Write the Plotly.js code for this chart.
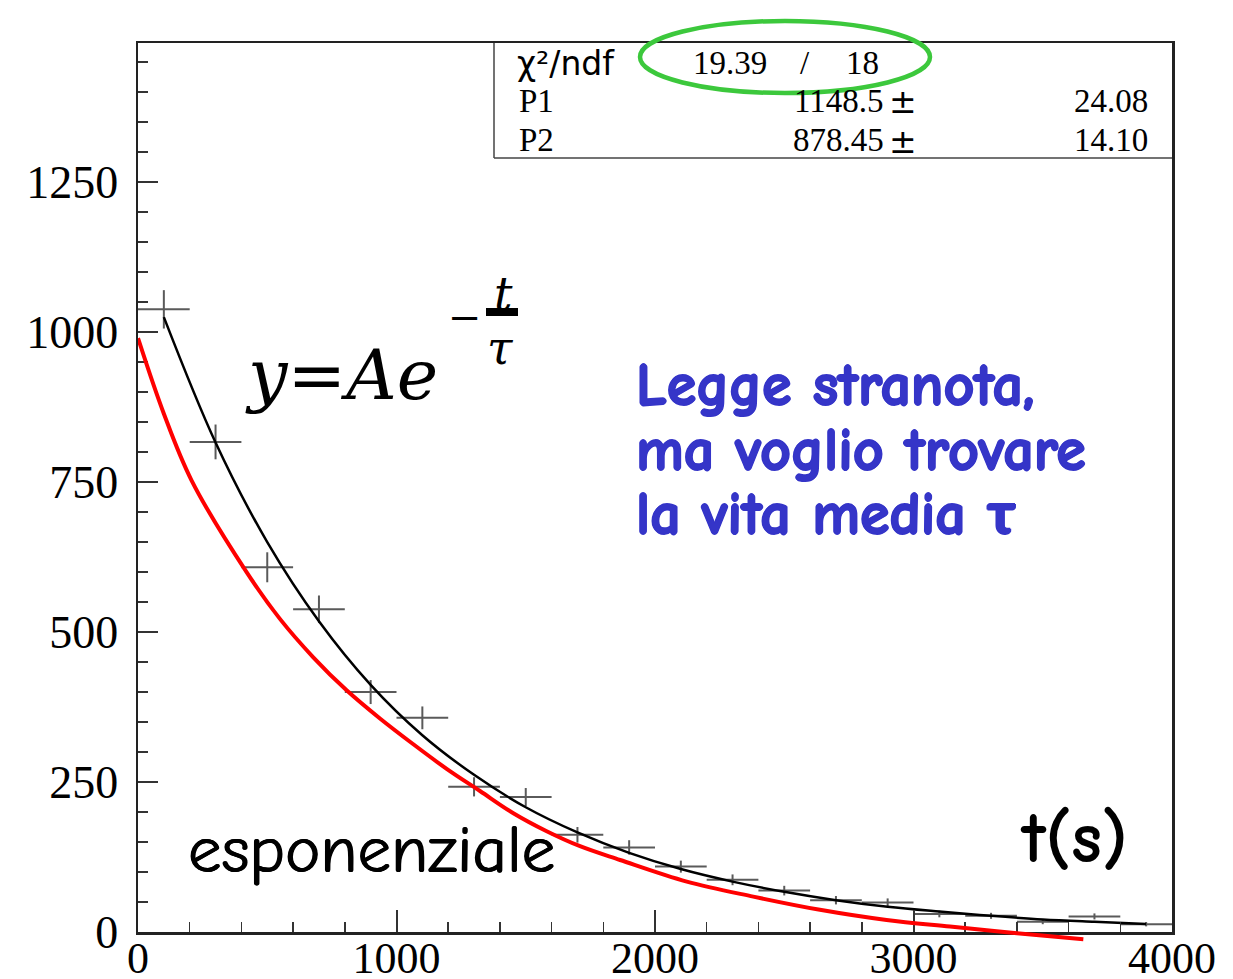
<!DOCTYPE html>
<html>
<head>
<meta charset="utf-8">
<script src="https://cdn.plot.ly/plotly-3.0.1.min.js"></script>
<style>html,body{margin:0;padding:0;background:#fff;}#chart{width:1233px;height:979px;}</style>
</head>
<body>
<div id="chart"></div>
<script>
// ---- data ----
var binCenters = [100, 300, 500, 700, 900, 1100, 1300, 1500, 1700, 1900, 2100, 2300, 2500, 2700, 2900, 3100, 3300, 3500, 3700, 3900];
var binHalfWidth = [100, 100, 100, 100, 100, 100, 100, 100, 100, 100, 100, 100, 100, 100, 100, 100, 100, 100, 100, 100];
var counts = [1038, 817, 608, 538, 400, 357, 242, 225, 162, 141, 109, 87, 69, 53, 49, 30, 27, 17, 26, 13];
var countErrors = [32, 29, 25, 23, 20, 19, 16, 15, 13, 12, 10, 9, 8, 7, 7, 5.5, 5, 4, 5, 3.6];

var fitT = [100, 300, 500, 700, 900, 1100, 1300, 1500, 1700, 1900, 2100, 2300, 2500, 2700, 2900, 3100, 3300, 3500, 3700, 3900];
var fitY = [1025, 816, 650, 518, 412, 328, 262, 208, 166, 132, 105, 84, 67, 53, 42, 34, 27, 21, 17, 13.5];

var redT = [0, 100, 207, 420, 549, 678, 807, 936, 1065, 1194, 1323, 1452, 1581, 1710, 1865, 2123, 2380, 2638, 2896, 3141, 3400, 3657];
var redY = [990, 864, 753, 600, 522, 458, 403, 356, 313, 272, 235, 198, 168, 143, 120, 84, 59, 37, 20, 9, -2, -12];

var yTickVals = [0, 250, 500, 750, 1000, 1250];
var xTickVals = [0, 1000, 2000, 3000, 4000];

var statsRows = [
  {name: "\u03c7\u00b2/ndf", val: "19.39", sep: "/", err: "18"},
  {name: "P1", val: "1148.5", err: "24.08"},
  {name: "P2", val: "878.45", err: "14.10"}
];

// ---- layout geometry (pixels) ----
var W = 1233, H = 979;
var mL = 138, mR = 61, mT = 43, mB = 35;
var plotW = W - mL - mR, plotH = H - mT - mB;
var yMax = 1482, yLow = -20;
var yDom0 = -yLow / (yMax - yLow);
function px(x) { return (x - mL) / plotW; }
function py(y) { return (H - mB - y) / plotH; }

var serif = "Liberation Serif, Times New Roman, serif";
var comic = "Comic Sans MS, Comic Neue, Lato, sans-serif";
var blue = "#3535c8";

var traces = [
  {
    type: "scatter", mode: "markers", x: binCenters, y: counts,
    marker: {size: 1, color: "rgba(0,0,0,0)"},
    error_x: {type: "data", array: binHalfWidth, symmetric: true, color: "#5a5a5a", thickness: 2, width: 0},
    error_y: {type: "data", array: countErrors, symmetric: true, color: "#5a5a5a", thickness: 2, width: 0},
    hoverinfo: "skip", showlegend: false
  },
  {
    type: "scatter", mode: "lines", x: fitT, y: fitY,
    line: {color: "#000", width: 2.5, shape: "spline", smoothing: 1},
    showlegend: false
  },
  {
    type: "scatter", mode: "lines", x: redT, y: redY, yaxis: "y2",
    line: {color: "#ff0000", width: 4, shape: "spline", smoothing: 1},
    showlegend: false
  }
];

var annotations = [];
function ann(text, x, y, size, opts) {
  var a = {text: text, xref: "paper", yref: "paper", x: px(x), y: py(y), showarrow: false,
    xanchor: "center", yanchor: "middle", font: {size: size, color: "#000", family: serif}};
  for (var k in opts) { if (k === "font") { for (var f in opts.font) a.font[f] = opts.font[f]; } else a[k] = opts[k]; }
  annotations.push(a);
}
// stats box
ann(statsRows[0].name, 515, 63, 33, {xanchor: "left", font: {family: "DejaVu Sans, sans-serif"}});
ann(statsRows[0].val, 730, 63, 33, {});
ann(statsRows[0].sep, 805, 63, 33, {});
ann(statsRows[0].err, 862, 63, 33, {});
ann(statsRows[1].name, 517, 101, 33, {xanchor: "left"});
ann(statsRows[1].val, 886, 101, 33, {xanchor: "right"});
ann("\u00b1", 903, 102, 33, {font: {family: "DejaVu Sans, sans-serif"}});
ann(statsRows[1].err, 1150, 101, 33, {xanchor: "right"});
ann(statsRows[2].name, 517, 140, 33, {xanchor: "left"});
ann(statsRows[2].val, 886, 140, 33, {xanchor: "right"});
ann("\u00b1", 903, 141, 33, {font: {family: "DejaVu Sans, sans-serif"}});
ann(statsRows[2].err, 1150, 140, 33, {xanchor: "right"});
// formula
ann("<i>y</i>=<i>Ae</i>", 243, 375, 70, {xanchor: "left", font: {family: "DejaVu Serif, serif"}});
ann("\u2212", 465, 317, 40, {font: {family: "DejaVu Serif, serif"}});
ann("<i>t</i>", 503, 294, 46, {font: {family: "DejaVu Serif, serif"}});
ann("<i>\u03c4</i>", 500, 348, 46, {font: {family: "DejaVu Serif, serif"}});
// blue text
var blueShadow = "1px 0 0 " + blue + ", -1px 0 0 " + blue + ", 0 1px 0 " + blue + ", 0 -1px 0 " + blue;
ann("<b>Legge stranota,</b>", 634, 386, 60, {xanchor: "left", font: {family: comic, color: blue, weight: "bold", shadow: blueShadow}});
ann("<b>ma voglio trovare</b>", 634, 450, 60, {xanchor: "left", font: {family: comic, color: blue, weight: "bold", shadow: blueShadow}});
ann("<b>la vita media \u03c4</b>", 634, 514, 60, {xanchor: "left", font: {family: comic, color: blue, weight: "bold", shadow: blueShadow}});
// other labels
ann("esponenziale", 186, 850, 67, {xanchor: "left", font: {family: comic, shadow: "0.6px 0 0 #000, -0.6px 0 0 #000"}});
ann("<b>t(s)</b>", 1074, 838, 72, {font: {family: comic, weight: "bold"}});

var shapes = [
  // fraction bar
  {type: "rect", xref: "paper", yref: "paper", x0: px(486), x1: px(518), y0: py(316), y1: py(308), fillcolor: "#000", line: {width: 0}},
  // stats box
  {type: "line", xref: "paper", yref: "paper", x0: px(494), x1: px(494), y0: py(43), y1: py(158), line: {color: "#444", width: 1.5}},
  {type: "line", xref: "paper", yref: "paper", x0: px(494), x1: px(1172), y0: py(158), y1: py(158), line: {color: "#444", width: 1.5}},
  // green ellipse
  {type: "circle", xref: "paper", yref: "paper", x0: px(640), x1: px(930), y0: py(93), y1: py(21), line: {color: "#3cc83c", width: 4.5}}
];

var layout = {
  width: W, height: H,
  margin: {l: mL, r: mR, t: mT, b: mB, pad: 0},
  paper_bgcolor: "#fff", plot_bgcolor: "rgba(0,0,0,0)",
  showlegend: false,
  xaxis: {
    range: [0, 4000], domain: [0, 1], anchor: "y",
    tickvals: xTickVals, ticks: "inside", ticklen: 22, tickwidth: 2, tickcolor: "#333",
    minor: {dtick: 200, tick0: 0, ticks: "inside", ticklen: 10, tickwidth: 1.5, tickcolor: "#333"},
    showline: true, linewidth: 2.5, linecolor: "#222", mirror: true,
    showgrid: false, zeroline: false, automargin: false,
    tickfont: {family: serif, size: 44, color: "#000"}, ticklabelstandoff: -14
  },
  yaxis: {
    range: [0, yMax], domain: [yDom0, 1], anchor: "x",
    tickvals: yTickVals, ticks: "inside", ticklen: 20, tickwidth: 2, tickcolor: "#333",
    minor: {dtick: 50, tick0: 0, ticks: "inside", ticklen: 10, tickwidth: 1.5, tickcolor: "#333"},
    showline: true, linewidth: 2.5, linecolor: "#222", mirror: true,
    showgrid: false, zeroline: false, automargin: false,
    tickfont: {family: serif, size: 46, color: "#000"}, ticklabelstandoff: 8
  },
  yaxis2: {range: [yLow, yMax], domain: [0, 1], anchor: "x", visible: false, showgrid: false, zeroline: false},
  annotations: annotations,
  shapes: shapes
};

Plotly.newPlot("chart", traces, layout, {staticPlot: true, displayModeBar: false});
</script>
</body>
</html>
